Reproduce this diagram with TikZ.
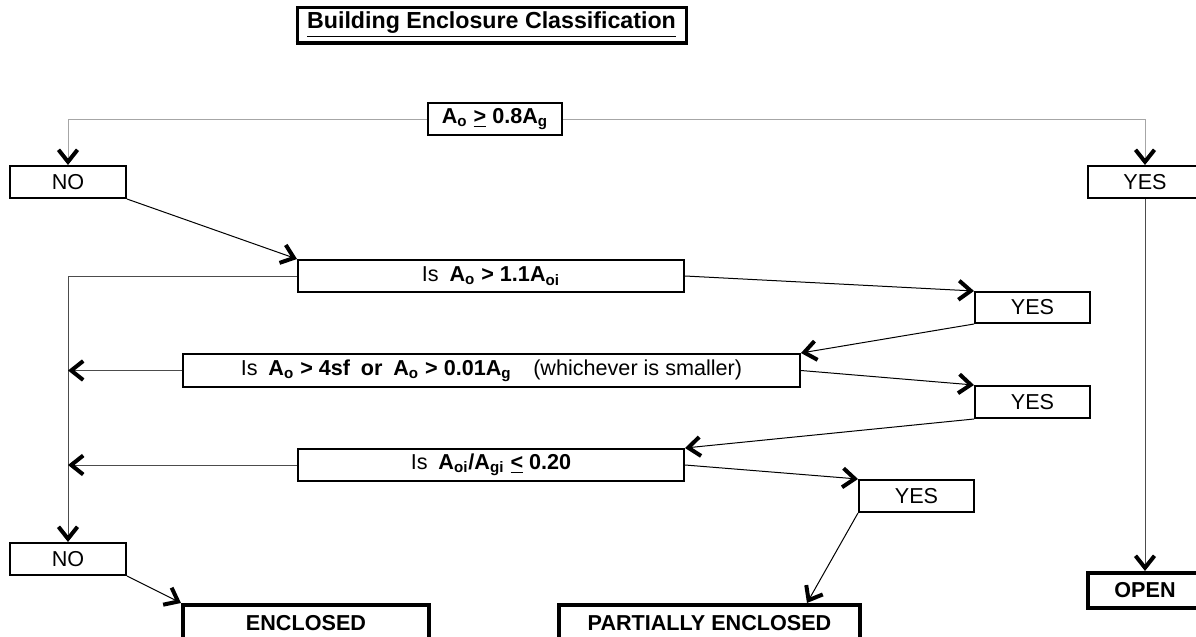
\documentclass[tikz,border=0pt]{standalone}
\usepackage{fontspec}
\setmainfont{Liberation Sans}
\usetikzlibrary{arrows.meta}

\begin{document}
\begin{tikzpicture}[x=0.5pt,y=-0.5pt,
  box/.style={draw, line width=1pt, inner sep=0pt, font=\fontsize{10.8}{12}\selectfont},
  endbox/.style={box, line width=2pt, font=\fontsize{10.8}{12}\selectfont\bfseries},
  link/.style={line width=0.5pt, -{Straight Barb[length=6pt,width=9.5pt,line width=2pt,color=black]}},
  feed/.style={link, draw=gray!70}]

\useasboundingbox (0,0) rectangle (1196,637);

\node[draw, line width=1.5pt, inner sep=0pt, minimum width=194.5pt, minimum height=18pt, font=\fontsize{11.6}{13}\selectfont\bfseries] (title) at (491.5,25) {\underline{Building Enclosure Classification}};
\draw[line width=0.4pt] ([yshift=1.7pt]title.south west) -- ([yshift=1.7pt]title.south east);

\node[box, minimum width=67pt, minimum height=16pt] (q1) at (495,119) {\textbf{A\textsubscript{o} \underline{>} 0.8A\textsubscript{g}}};
\node[box, minimum width=58pt, minimum height=16pt] (no1) at (68,182) {NO};
\node[box, minimum width=57pt, minimum height=16pt] (yes1) at (1145,182) {YES};
\node[box, minimum width=193pt, minimum height=16pt] (q2) at (491,276) {Is\enspace\textbf{A\textsubscript{o} > 1.1A\textsubscript{oi}}};
\node[box, minimum width=57.5pt, minimum height=15.5pt] (yes2) at (1032.5,307.5) {YES};
\node[box, minimum width=308.5pt, minimum height=16.5pt] (q3) at (491.5,370.5) {Is\enspace\textbf{A\textsubscript{o} > 4sf\enspace or\enspace A\textsubscript{o} > 0.01A\textsubscript{g}}\quad(whichever is smaller)};
\node[box, minimum width=57.5pt, minimum height=16pt] (yes3) at (1032.5,402) {YES};
\node[box, minimum width=193pt, minimum height=16pt] (q4) at (491,465) {Is\enspace\textbf{A\textsubscript{oi}/A\textsubscript{gi} \underline{<} 0.20}};
\node[box, minimum width=57.5pt, minimum height=16pt] (yes4) at (916.5,496) {YES};
\node[box, minimum width=58pt, minimum height=16pt] (no2) at (68,559) {NO};
\node[endbox, minimum width=123pt, minimum height=18pt] (enclosed) at (306,623) {ENCLOSED};
\node[endbox, minimum width=150.5pt, minimum height=18pt] (partial) at (709.5,623) {PARTIALLY ENCLOSED};
\node[endbox, minimum width=57pt, minimum height=17.5pt] (open) at (1145,590.5) {OPEN};

\draw[feed] (q1.west) -| (no1.north);
\draw[feed] (q1.east) -| (yes1.north);
\draw[link] (no1.south east) -- (q2.north west);
\draw[link, draw=black!70] (q2.west) -| (no2.north);
\draw[link] (q2.east) -- (yes2.north west);
\draw[link] (yes2.south west) -- (q3.north east);
\draw[link, draw=black!70] (q3.west) -- (q3.west -| no2.north);
\draw[link] (q3.east) -- (yes3.north west);
\draw[link] (yes3.south west) -- (q4.north east);
\draw[link, draw=black!70] (q4.west) -- (q4.west -| no2.north);
\draw[link] (q4.east) -- (yes4.north west);
\draw[link] (yes4.south west) -- ([xshift=-27.5pt]partial.north east);
\draw[link] (no2.south east) -- (enclosed.north west);
\draw[link, draw=black!70] (yes1.south) -- (open.north);

\end{tikzpicture}
\end{document}
